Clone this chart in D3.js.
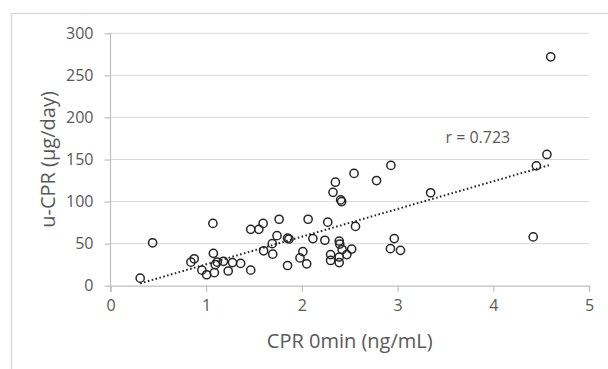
<!DOCTYPE html>
<html>
<head>
<meta charset="utf-8">
<script src="https://cdn.jsdelivr.net/npm/d3@7"></script>
<style>
  body { margin: 0; background: #fff; }
  text { font-family: "Open Sans", sans-serif; fill: #595959; }
</style>
</head>
<body>
<div class="chart"></div>
<script>
// CPR 0min (ng/mL)
const cprX = [
  0.31, 0.44, 0.84, 0.875, 0.955, 1.005, 1.07, 1.075, 1.085, 1.095,
  1.115, 1.18, 1.23, 1.275, 1.36, 1.465, 1.465, 1.55, 1.595, 1.60,
  1.69, 1.695, 1.74, 1.762, 1.85, 1.85, 1.865, 1.98, 2.01, 2.05,
  2.065, 2.115, 2.24, 2.27, 2.30, 2.30, 2.325, 2.35, 2.39, 2.395,
  2.39, 2.39, 2.405, 2.415, 2.42, 2.47, 2.52, 2.545, 2.56, 2.78,
  2.93, 2.925, 2.965, 3.03, 3.345, 4.417, 4.45, 4.56, 4.60
]
// u-CPR (µg/day)
const ucprY = [
  9, 51, 28, 32, 18.5, 13, 74, 38.5, 15.5, 25,
  28, 29, 17.5, 27.5, 26.5, 18.5, 67, 67, 74, 41.5,
  50, 37.5, 59.5, 79, 24, 56.5, 55.5, 33, 40.5, 26,
  79, 56, 54, 75.5, 37, 30, 111, 123, 53, 49.5,
  34, 27.5, 102, 100, 43, 37, 43.5, 133.5, 70.5, 125,
  143, 44, 56, 42, 110.5, 58, 142.5, 156, 272
]
const xTicks = [0, 1, 2, 3, 4, 5]
const yTicks = [0, 50, 100, 150, 200, 250, 300]
const rLabel = 'r = 0.723'

const width = 608
const height = 369

let points = cprX.map((x, i) => [x, ucprY[i]])

let xScale = d3.scaleLinear().domain([0, 5]).range([110.5, 589])
let yScale = d3.scaleLinear().domain([0, 300]).range([285.7, 33.3])

let svg = d3.select('.chart')
  .append('svg')
  .attr('width', width)
  .attr('height', height)

// outer frame
svg.append('path')
  .attr('d', 'M11.5,' + height + 'V13.5H' + width)
  .attr('fill', 'none')
  .attr('stroke', '#d9d9d9')
  .attr('stroke-width', 1.5)

// gridlines
svg.append('g')
  .selectAll('line')
  .data(yTicks.slice(1))
  .enter()
  .append('line')
  .attr('x1', xScale(0))
  .attr('x2', xScale(5))
  .attr('y1', d => yScale(d))
  .attr('y2', d => yScale(d))
  .attr('stroke', '#d9d9d9')
  .attr('stroke-width', 1)

const xAxis = d3.axisBottom(xScale).tickValues(xTicks).tickFormat(d3.format('d')).tickSize(6).tickPadding(8)
const yAxis = d3.axisLeft(yScale).tickValues(yTicks).tickSize(6).tickPadding(11)

let gx = svg.append('g')
  .attr('transform', 'translate(0,' + yScale(0) + ')')
  .call(xAxis)
let gy = svg.append('g')
  .attr('transform', 'translate(' + xScale(0) + ',0)')
  .call(yAxis)

;[gx, gy].forEach(g => {
  g.select('.domain').attr('stroke', '#bfbfbf').attr('stroke-width', 1.2)
  g.selectAll('.tick line').attr('stroke', '#bfbfbf').attr('stroke-width', 1.2)
  g.selectAll('.tick text').style('font-family', '"Open Sans", sans-serif').style('font-size', '16px').attr('fill', '#595959')
})
gy.select('.domain').attr('d', 'M0,' + (yScale(0) + 6) + 'V' + yScale(300))

// least squares trend line
const mx = d3.mean(cprX)
const my = d3.mean(ucprY)
const slope = d3.sum(points, d => (d[0] - mx) * (d[1] - my)) / d3.sum(points, d => (d[0] - mx) * (d[0] - mx))
const intercept = my - slope * mx
const [xMin, xMax] = d3.extent(cprX)

svg.append('line')
  .attr('x1', xScale(xMin))
  .attr('y1', yScale(intercept + slope * xMin))
  .attr('x2', xScale(xMax))
  .attr('y2', yScale(intercept + slope * xMax))
  .attr('stroke', '#262626')
  .attr('stroke-width', 2)
  .attr('stroke-dasharray', '1.6 2.4')

svg.append('g')
  .selectAll('circle')
  .data(points)
  .enter()
  .append('circle')
  .attr('cx', d => xScale(d[0]))
  .attr('cy', d => yScale(d[1]))
  .attr('r', 4.1)
  .attr('fill', 'none')
  .attr('stroke', '#262626')
  .attr('stroke-width', 1.5)

svg.append('text')
  .attr('x', xScale(3.5))
  .attr('y', yScale(177) + 6)
  .style('font-size', '16px')
  .text(rLabel)

svg.append('text')
  .attr('x', (xScale(0) + xScale(5)) / 2)
  .attr('y', 348)
  .attr('text-anchor', 'middle')
  .style('font-size', '20px')
  .text('CPR 0min (ng/mL)')

svg.append('text')
  .attr('transform', 'translate(55,' + ((yScale(0) + yScale(300)) / 2) + ') rotate(-90)')
  .attr('text-anchor', 'middle')
  .style('font-size', '20px')
  .text('u-CPR (µg/day)')
</script>
</body>
</html>
